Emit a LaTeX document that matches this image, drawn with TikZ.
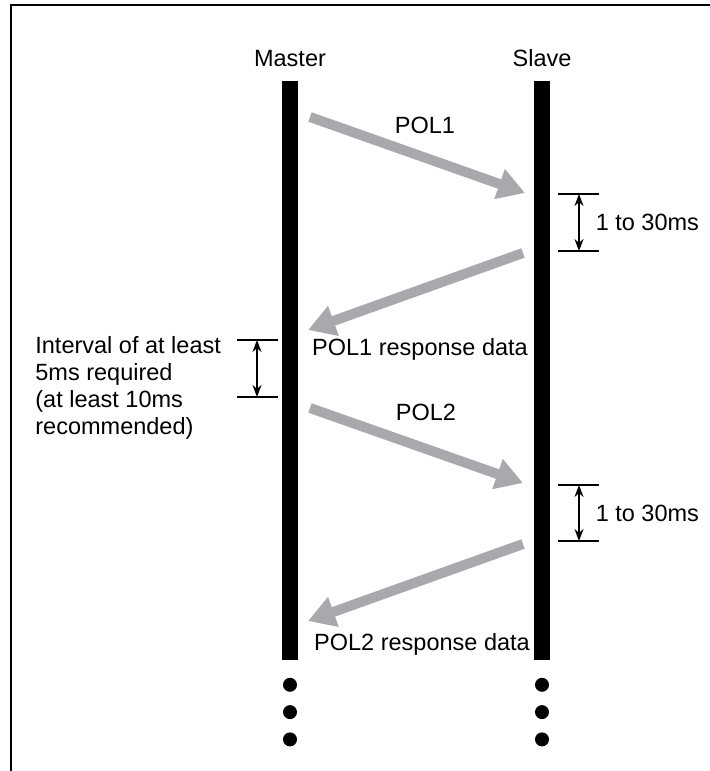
\documentclass[tikz,border=0pt]{standalone}
\usepackage{fontspec}
\setmainfont{Liberation Sans}
\usetikzlibrary{positioning,arrows.meta}
\definecolor{msggray}{HTML}{A7A9AC}
\tikzset{
  lifeline/.style={fill=black, inner sep=0pt, minimum width=8pt, minimum height=289.5pt},
  lbl/.style={inner sep=0pt, font=\fontsize{11.75}{13.5}\selectfont},
  msg/.style={draw=msggray, line width=5pt, -{Triangle[length=13.5pt,width=15pt]}},
  gap/.style={{Stealth[length=6pt,width=4.5pt]}-{Stealth[length=6pt,width=4.5pt]}, line width=0.75pt},
  tick/.style={line width=0.75pt},
  seqdot/.style={circle, fill=black, inner sep=0pt, minimum size=7pt},
  frame/.style={line width=1pt}
}

\begin{document}
\begin{tikzpicture}[x=0.5pt,y=-0.5pt]
  \useasboundingbox (0,0) rectangle (710,771);
  \draw[frame] (11,771) -- (11,5) -- (710,5);

  \node[lifeline] (mline) at (290,370.5) {};
  \node[lifeline] (sline) at (542,370.5) {};
  \node[lbl, above=6.5pt of mline] (mlabel) {Master};
  \node[lbl, above=6.5pt of sline] (slabel) {Slave};

  \node[seqdot, below=8.5pt of mline] (mdot1) {};
  \node[seqdot, below=6.25pt of mdot1] (mdot2) {};
  \node[seqdot, below=6.25pt of mdot2] (mdot3) {};
  \node[seqdot, below=8.5pt of sline] (sdot1) {};
  \node[seqdot, below=6.25pt of sdot1] (sdot2) {};
  \node[seqdot, below=6.25pt of sdot2] (sdot3) {};

  \coordinate (pol1a) at (310,117);
  \coordinate (pol1b) at (525,193);
  \coordinate (res1a) at (523,253);
  \coordinate (res1b) at (308,330);
  \coordinate (pol2a) at (310,408);
  \coordinate (pol2b) at (523,483);
  \coordinate (res2a) at (523,544);
  \coordinate (res2b) at (308,621);

  \draw[msg] (pol1a) -- (pol1b);
  \draw[msg] (res1a) -- (res1b);
  \draw[msg] (pol2a) -- (pol2b);
  \draw[msg] (res2a) -- (res2b);

  \node[lbl, anchor=base] (pol1) at (425,133) {POL1};
  \node[lbl, anchor=base] (res1) at (420,355) {POL1 response data};
  \node[lbl, anchor=base] (pol2) at (426,420) {POL2};
  \node[lbl, anchor=base] (res2) at (422,650) {POL2 response data};

  \coordinate (wait1a) at (579,194);
  \coordinate (wait1b) at (579,251);
  \coordinate (wait2a) at (579,485);
  \coordinate (wait2b) at (579,541);
  \coordinate (ivala) at (257,340);
  \coordinate (ivalb) at (257,397);

  \draw[tick] ([xshift=-10.5pt]wait1a) -- ([xshift=10pt]wait1a);
  \draw[tick] ([xshift=-10.5pt]wait1b) -- ([xshift=10pt]wait1b);
  \draw[gap] (wait1a) -- node[lbl, right=8pt] {1 to 30ms} (wait1b);
  \draw[tick] ([xshift=-10.5pt]wait2a) -- ([xshift=10pt]wait2a);
  \draw[tick] ([xshift=-10.5pt]wait2b) -- ([xshift=10pt]wait2b);
  \draw[gap] (wait2a) -- node[lbl, right=8pt] {1 to 30ms} (wait2b);

  \draw[tick] ([xshift=-10pt]ivala) -- ([xshift=10.5pt]ivala);
  \draw[tick] ([xshift=-10pt]ivalb) -- ([xshift=10.5pt]ivalb);
  \draw[gap] (ivala) -- (ivalb);
  \node[lbl, align=left, anchor=north west] (ival) at (35,336)
    {Interval of at least\\5ms required\\(at least 10ms\\recommended)};
\end{tikzpicture}
\end{document}
